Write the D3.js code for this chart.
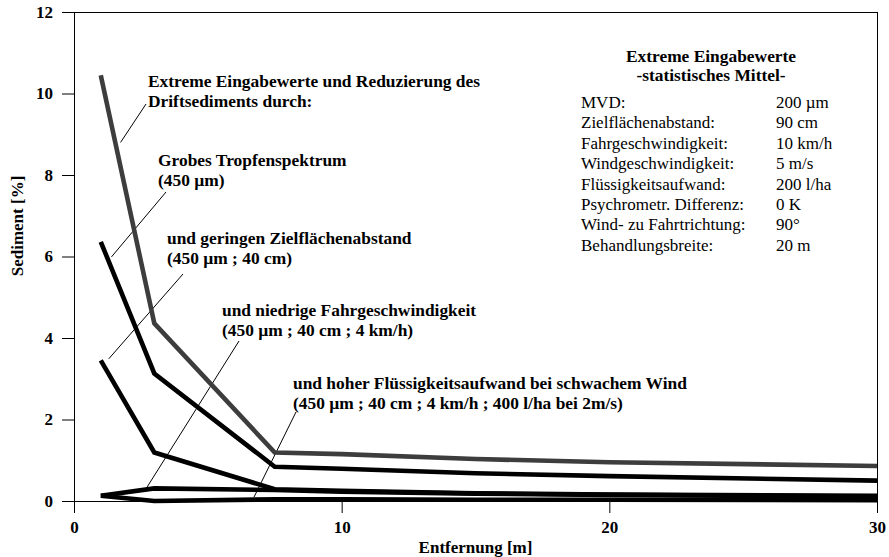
<!DOCTYPE html>
<html>
<head>
<meta charset="utf-8">
<script src="https://cdn.jsdelivr.net/npm/d3@7"></script>
<style>
  body { margin: 0; background: #fff; }
  svg { display: block; }
  text { font-family: "Liberation Serif", "Times New Roman", serif; fill: #000; }
</style>
</head>
<body>
<svg id="chart" width="889" height="557"></svg>
<script>
// Distance from the sprayed area [m] and drift sediment [%] per scenario
const distance = [1, 3, 7.5, 10, 15, 20, 30];
const extremeInputs = [10.45, 4.36, 1.19, 1.15, 1.03, 0.95, 0.86];
const coarseSpectrum = [6.36, 3.13, 0.84, 0.79, 0.68, 0.61, 0.50];
const lowTargetDistance = [3.45, 1.19, 0.29, 0.25, 0.19, 0.16, 0.13];
const lowDrivingSpeed = [0.13, 0.31, 0.27, 0.23, 0.18, 0.15, 0.11];
const highVolumeLowWind = [0.13, 0.00, 0.04, 0.04, 0.03, 0.03, 0.02];

const xTicks = [0, 10, 20, 30];
const yTicks = [0, 2, 4, 6, 8, 10, 12];

const annotationLines = [
  ["Extreme Eingabewerte und Reduzierung des", "Driftsediments durch:"],
  ["Grobes Tropfenspektrum", "(450 µm)"],
  ["und geringen Zielflächenabstand", "(450 µm ; 40 cm)"],
  ["und niedrige Fahrgeschwindigkeit", "(450 µm ; 40 cm ; 4 km/h)"],
  ["und hoher Flüssigkeitsaufwand bei schwachem Wind", "(450 µm ; 40 cm ; 4 km/h ; 400 l/ha bei 2m/s)"]
];

const paramTitle = ["Extreme Eingabewerte", "-statistisches Mittel-"];
const paramNames = ["MVD:", "Zielflächenabstand:", "Fahrgeschwindigkeit:", "Windgeschwindigkeit:",
  "Flüssigkeitsaufwand:", "Psychrometr. Differenz:", "Wind- zu Fahrtrichtung:", "Behandlungsbreite:"];
const paramValues = ["200 µm", "90 cm", "10 km/h", "5 m/s", "200 l/ha", "0 K", "90°", "20 m"];

// ---- layout ----
const svg = d3.select("#chart");
const x = d3.scaleLinear().domain([0, 30]).range([74, 877]);
const y = d3.scaleLinear().domain([0, 12]).range([501, 12]);
const FONT = 17;
const BOLD_FONT = 17.4;

const series = [
  { values: extremeInputs, color: "#3d3d3d" },
  { values: coarseSpectrum, color: "#000" },
  { values: lowTargetDistance, color: "#000" },
  { values: lowDrivingSpeed, color: "#000" },
  { values: highVolumeLowWind, color: "#000" }
];

// Text block placement (px) and where each leader meets its curve (data units)
const annotationLayout = [
  { tx: 148, ty: 87,  from: [146, 104], to: [1.74, 8.80] },
  { tx: 158, ty: 166, from: [166, 192], to: [1.40, 5.99] },
  { tx: 167, ty: 244, from: [183, 274], to: [1.30, 3.49] },
  { tx: 222, ty: 316, from: [239, 341], to: [2.70, 0.31] },
  { tx: 293, ty: 389, from: [296, 412], to: [6.72, 0.09] }
];
const lineGap = 20;

// ---- axes ----
const yAxis = d3.axisLeft(y).tickValues(yTicks).tickSize(12).tickPadding(9).tickSizeOuter(0);
const xAxis = d3.axisBottom(x).tickValues(xTicks).tickSize(12).tickPadding(8).tickSizeOuter(0);

const gy = svg.append("g").attr("transform", `translate(${x(0)},0)`).call(yAxis);
const gx = svg.append("g").attr("transform", `translate(0,${y(0)})`).call(xAxis);
[gx, gy].forEach(g => {
  g.selectAll("text").attr("font-family", "Liberation Serif").attr("font-weight", "bold")
    .attr("font-size", FONT).attr("fill", "#000");
  g.selectAll("line,path").attr("stroke", "#000");
});

// frame: top and right edges
svg.append("line").attr("x1", x(0)).attr("x2", x(30) + 0.5).attr("y1", y(12) + 0.5).attr("y2", y(12) + 0.5)
  .attr("stroke", "#000");
svg.append("line").attr("x1", x(30) + 0.5).attr("x2", x(30) + 0.5).attr("y1", y(12)).attr("y2", y(0))
  .attr("stroke", "#000");

// axis titles
svg.append("text").attr("x", (x(0) + x(30)) / 2).attr("y", 553).attr("text-anchor", "middle")
  .attr("font-weight", "bold").attr("font-size", FONT).text("Entfernung [m]");
svg.append("text").attr("transform", "translate(23,226) rotate(-90)").attr("text-anchor", "middle")
  .attr("font-weight", "bold").attr("font-size", FONT).text("Sediment [%]");

// ---- leader lines ----
svg.append("g").selectAll("line").data(annotationLayout).join("line")
  .attr("x1", d => d.from[0]).attr("y1", d => d.from[1])
  .attr("x2", d => x(d.to[0])).attr("y2", d => y(d.to[1]))
  .attr("stroke", "#000").attr("stroke-width", 1);

// ---- curves ----
const line = d3.line().x((d, i) => x(distance[i])).y(d => y(d));
svg.append("g").selectAll("path").data(series.slice().reverse()).join("path")
  .attr("d", d => line(d.values))
  .attr("fill", "none").attr("stroke", d => d.color).attr("stroke-width", 4.6)
  .attr("stroke-linejoin", "miter").attr("stroke-miterlimit", 10).attr("stroke-linecap", "butt");

// ---- annotation text ----
const ann = svg.append("g").attr("font-weight", "bold").attr("font-size", BOLD_FONT);
annotationLines.forEach((lines, i) => {
  const L = annotationLayout[i];
  lines.forEach((t, j) => {
    ann.append("text").attr("x", L.tx).attr("y", L.ty + j * lineGap).text(t);
  });
});

// ---- parameter block ----
const pb = svg.append("g").attr("font-size", FONT);
paramTitle.forEach((t, j) => {
  pb.append("text").attr("x", 711).attr("y", 62 + j * 18.5).attr("text-anchor", "middle")
    .attr("font-weight", "bold").attr("font-size", BOLD_FONT).text(t);
});
paramNames.forEach((t, j) => {
  pb.append("text").attr("x", 581).attr("y", 108 + j * 20.4).text(t);
  pb.append("text").attr("x", 776).attr("y", 108 + j * 20.4).text(paramValues[j]);
});
</script>
</body>
</html>
